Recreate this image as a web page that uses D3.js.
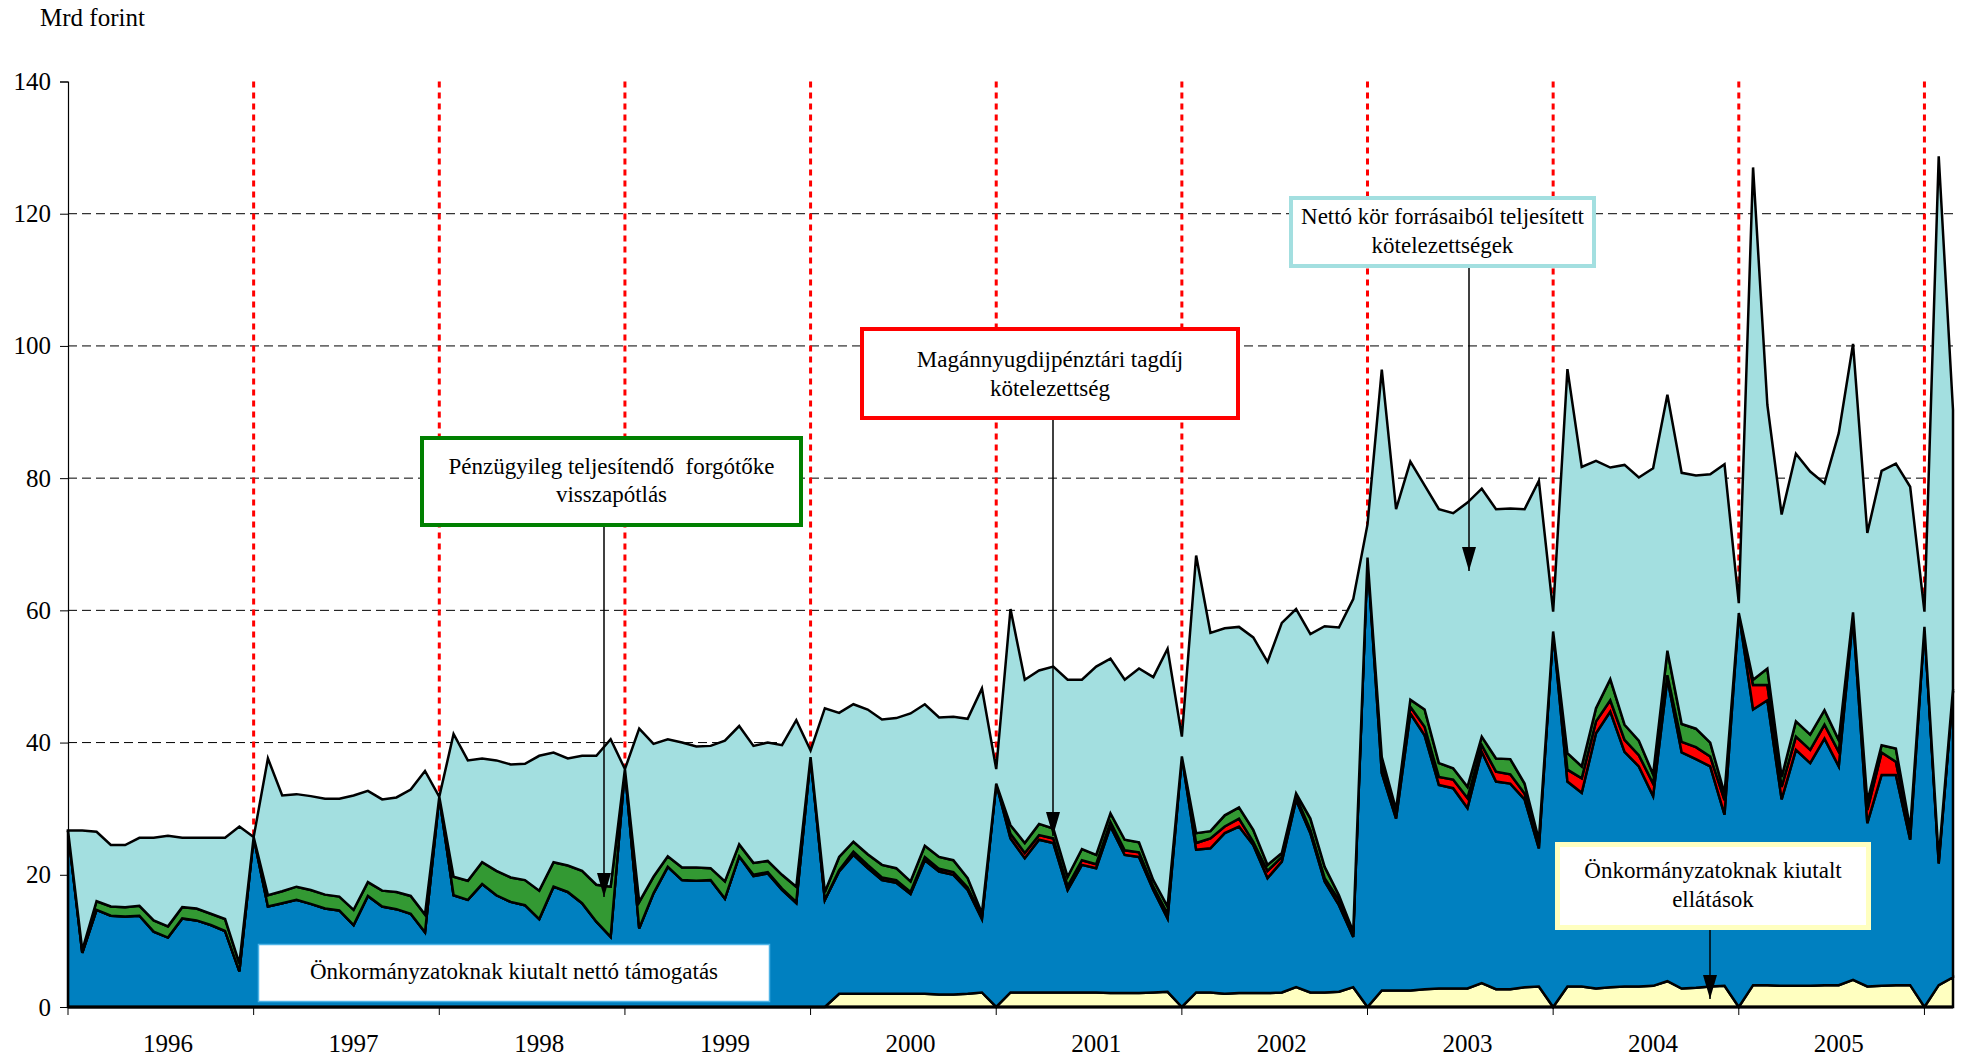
<!DOCTYPE html>
<html>
<head>
<meta charset="utf-8">
<script src="https://cdn.jsdelivr.net/npm/d3@7"></script>
<style>
    body { margin: 0; background: #fff; }
    svg text { font-family: "Liberation Serif", serif; fill: #000; }
</style>
</head>
<body>
<div id="chart"></div>
<script>

// Years on the category axis (13 periods per year, plus 3 closing points)
var years = [1996, 1997, 1998, 1999, 2000, 2001, 2002, 2003, 2004, 2005];
var yTicks = [0, 20, 40, 60, 80, 100, 120, 140];

// Önkormányzatoknak kiutalt ellátások (Mrd Ft)
var ellatasok = [
    0,0,0,0,0,0,0,0,0,0,0,0,0,
    0,0,0,0,0,0,0,0,0,0,0,0,0,
    0,0,0,0,0,0,0,0,0,0,0,0,0,
    0,0,0,0,0,0,0,0,0,0,0,0,0,
    0,0,2.0,2.0,2.0,2.0,2.0,2.0,2.0,1.9,1.9,2.0,2.2,
    0,2.2,2.2,2.2,2.2,2.2,2.2,2.2,2.1,2.1,2.1,2.2,2.3,
    0,2.2,2.2,2.0,2.1,2.1,2.1,2.2,3.0,2.2,2.2,2.3,3.0,
    0,2.5,2.5,2.5,2.7,2.8,2.8,2.8,3.6,2.7,2.7,3.0,3.1,
    0,3.1,3.1,2.8,3.0,3.1,3.1,3.2,3.9,2.8,2.9,3.1,3.2,
    0,3.3,3.3,3.2,3.2,3.2,3.3,3.3,4.1,3.1,3.2,3.3,3.3,
    0,3.3,4.5
];

// Önkormányzatoknak kiutalt nettó támogatás
var tamogatas = [
    26.7,8.2,14.7,13.8,13.7,13.8,11.4,10.5,13.4,13.1,12.4,11.5,5.4,
    25.7,15.2,15.7,16.2,15.6,14.9,14.6,12.4,16.8,15.2,14.8,14.1,11.3,
    31.8,16.9,16.2,18.6,16.9,15.9,15.4,13.3,18.2,17.4,15.7,12.9,10.6,
    36.0,11.9,17.2,21.2,19.2,19.1,19.2,16.4,22.8,19.8,20.2,17.7,15.7,
    37.8,16.2,18.5,21.0,19.0,17.2,16.8,15.1,20.2,18.6,18.1,15.7,11.1,
    33.8,23.3,20.3,23.1,22.6,15.5,19.3,18.8,25.2,20.9,20.6,15.5,11.1,
    37.9,21.6,21.8,24.3,25.2,22.4,17.4,19.8,28.3,24.1,16.8,13.1,7.6,
    68.0,32.9,26.0,41.9,38.4,30.8,30.3,27.3,35.0,31.4,31.1,28.4,20.9,
    56.8,31.0,29.3,38.6,41.7,35.5,33.3,28.7,45.8,35.7,34.6,33.3,25.9,
    59.6,41.7,43.1,28.2,35.7,33.7,37.3,33.1,54.9,24.7,31.9,31.8,22.0,
    57.5,18.4,43.3
];

// Magánnyugdíjpénztári tagdíj kötelezettség
var maganNyugdij = [
    0,0,0,0,0,0,0,0,0,0,0,0,0,
    0,0,0,0,0,0,0,0,0,0,0,0,0,
    0,0,0,0,0,0,0,0,0,0,0,0,0,
    0,0,0,0,0,0,0,0,0,0.2,0.2,0.2,0.2,
    0,0,0.2,0.5,0.5,0.4,0.4,0.3,0.5,0.4,0.4,0.4,0.4,
    0,0.7,0.8,0.7,0.7,0.6,0.7,0.6,0.7,0.7,0.7,0.5,0.7,
    0,1.0,1.5,1.0,1.2,0.5,1.1,0.7,0.5,0.5,0.5,0.8,0.5,
    0,1.2,0.8,1.0,1.3,1.2,1.3,1.5,1.0,1.5,1.4,0.9,0.8,
    0,1.8,2.2,1.8,1.7,1.8,1.7,1.9,0.5,1.6,1.8,1.5,2.2,
    0,3.7,2.3,1.9,2.0,2.0,2.1,2.2,0.3,2.0,3.4,2.0,1.5,
    0,0.5,0
];

// Pénzügyileg teljesítendő forgótőke visszapótlás
var forgotoke = [
    0,0.4,1.3,1.4,1.4,1.5,1.7,1.7,1.7,1.8,1.7,1.8,1.2,
    0,1.7,1.8,2.0,2.1,2.1,2.1,2.3,2.1,2.4,2.6,2.7,2.7,
    0,2.8,2.9,3.3,3.7,3.7,3.8,4.3,3.7,4.0,4.9,5.6,7.6,
    0,4.0,2.5,1.6,1.9,2.0,1.8,2.6,1.8,1.8,1.7,2.1,2.3,
    0,1.2,2.0,1.5,1.6,1.9,1.8,1.6,1.7,1.8,1.8,1.4,0.5,
    0,1.3,1.5,1.7,1.5,1.4,1.7,1.4,1.3,1.6,1.5,1.0,1.1,
    0,1.5,1.1,1.7,1.7,1.8,0.9,0.6,0.5,1.7,1.7,0.7,0.3,
    0,1.2,0.6,1.1,2.6,2.1,1.7,1.7,1.3,2.0,2.3,1.5,0.5,
    0,2.5,1.8,2.0,3.2,2.3,2.2,1.4,3.7,2.7,2.8,2.1,1.0,
    0,0.8,2.5,1.5,2.3,2.3,2.2,1.8,0.4,1.3,1.1,2.0,0.2,
    0,0.3,0.3
];

// Nettó kör forrásaiból teljesített kötelezettségek
var nettoKor = [
    0,18.1,10.5,9.3,9.4,10.3,12.5,13.7,10.5,10.7,11.5,12.3,20.7,
    0,20.7,14.5,14.0,14.2,14.5,14.8,17.3,13.8,13.8,14.3,16.1,21.7,
    0,21.6,18.2,15.7,16.7,17.1,17.6,20.4,16.6,16.2,17.4,19.5,22.3,
    0,26.2,20.1,17.7,18.9,18.3,18.5,21.3,17.9,17.7,17.9,19.6,25.2,
    1.0,27.8,21.8,20.8,21.9,22.0,22.7,25.4,21.4,21.1,21.7,24.1,34.0,
    2.2,32.7,24.7,23.2,24.5,29.8,25.6,28.5,23.4,24.2,26.3,30.7,39.0,
    3.0,42.0,30.0,28.3,27.3,29.1,30.7,34.8,27.9,27.9,36.4,40.5,50.3,
    5.0,58.6,45.4,36.0,33.9,38.4,38.6,43.0,37.5,37.7,37.9,41.5,54.3,
    3.0,58.1,45.3,37.4,32.0,39.3,39.8,46.3,38.7,38.0,38.3,40.6,49.8,
    1.5,77.5,39.9,39.7,40.5,39.8,34.3,46.4,40.6,40.6,41.5,43.1,51.7,
    2.3,106.2,42.2
];

var seriesKeys = ["ellatasok", "tamogatas", "maganNyugdij", "forgotoke", "nettoKor"];
var seriesColors = ["#ffffc0", "#0080c0", "#ff0000", "#339933", "#a3dfe0"];

var SERIF = "'Liberation Serif', 'Times New Roman', Times, serif";


StackedChart = function(_parentElement){
    this.parentElement = _parentElement;
    this.initVis();
}

StackedChart.prototype.initVis = function(){
    var vis = this;

    vis.margin = { top: 81.5, right: 8, bottom: 51, left: 68 };
    vis.width = 1961 - vis.margin.left - vis.margin.right;
    vis.height = 1058 - vis.margin.top - vis.margin.bottom;

    vis.root = d3.select("#" + vis.parentElement).append("svg")
        .attr("width", 1961)
        .attr("height", 1058)
        .attr("font-family", SERIF);

    vis.svg = vis.root.append("g")
        .attr("transform", "translate(" + vis.margin.left + "," + vis.margin.top + ")");

    vis.n = tamogatas.length;
    vis.x = d3.scaleLinear().domain([0, vis.n - 1]).range([0, vis.width]);
    vis.y = d3.scaleLinear().domain([0, 140]).range([vis.height, 0]);

    // arrow head
    vis.root.append("defs").append("marker")
        .attr("id", "arrow")
        .attr("viewBox", "0 -7 24 14")
        .attr("refX", 24).attr("refY", 0)
        .attr("markerWidth", 24).attr("markerHeight", 14)
        .attr("markerUnits", "userSpaceOnUse")
        .attr("orient", "auto")
        .append("path").attr("d", "M0,-7L24,0L0,7Z").attr("fill", "#000");

    vis.wrangleData();
}

StackedChart.prototype.wrangleData = function(){
    var vis = this;

    vis.rows = d3.range(vis.n).map(function(i){
        return {
            i: i,
            ellatasok: ellatasok[i],
            tamogatas: tamogatas[i],
            maganNyugdij: maganNyugdij[i],
            forgotoke: forgotoke[i],
            nettoKor: nettoKor[i]
        };
    });
    vis.stacked = d3.stack().keys(seriesKeys)(vis.rows);

    vis.updateVis();
}

StackedChart.prototype.updateVis = function(){
    var vis = this;
    var x = vis.x, y = vis.y;

    // horizontal dashed grid
    vis.svg.selectAll(".grid").data(yTicks.filter(function(d){ return d > 0 && d < 140; }))
        .enter().append("line")
        .attr("x1", 0).attr("x2", vis.width)
        .attr("y1", function(d){ return y(d); }).attr("y2", function(d){ return y(d); })
        .attr("stroke", "#000").attr("stroke-width", 1)
        .attr("stroke-dasharray", "9,5");

    // red dotted year separators
    var bounds = years.map(function(d, k){ return (k + 1) * 13; });
    vis.svg.selectAll(".sep").data(bounds)
        .enter().append("line")
        .attr("x1", function(d){ return x(d); }).attr("x2", function(d){ return x(d); })
        .attr("y1", 0).attr("y2", vis.height)
        .attr("stroke", "#ff0000").attr("stroke-width", 3)
        .attr("stroke-dasharray", "6,5");

    // stacked areas
    var area = d3.area()
        .x(function(d){ return x(d.data.i); })
        .y0(function(d){ return y(d[0]); })
        .y1(function(d){ return y(d[1]); });

    vis.svg.selectAll(".layer").data(vis.stacked)
        .enter().append("path")
        .attr("class", "layer")
        .attr("d", area)
        .attr("fill", function(d, k){ return seriesColors[k]; })
        .attr("stroke", "#000")
        .attr("stroke-width", 2.5)
        .attr("stroke-linejoin", "miter");

    // y axis
    var yAxis = d3.axisLeft(y).tickValues(yTicks).tickSize(8).tickPadding(9);
    var gy = vis.svg.append("g").call(yAxis)
        .attr("font-family", SERIF).attr("font-size", 25);
    gy.select(".domain").attr("stroke", "#000").attr("stroke-width", 1.2);
    gy.selectAll(".tick line").attr("stroke", "#000");
    gy.selectAll("text").style("font-family", SERIF).style("font-size", "25px");

    // x axis
    var gx = vis.svg.append("g").attr("transform", "translate(0," + vis.height + ")");
    gx.append("line").attr("x1", 0).attr("x2", vis.width)
        .attr("stroke", "#000").attr("stroke-width", 3);
    gx.selectAll(".xt").data([0].concat(bounds))
        .enter().append("line")
        .attr("x1", function(d){ return x(d); }).attr("x2", function(d){ return x(d); })
        .attr("y1", 0).attr("y2", 8)
        .attr("stroke", "#000").attr("stroke-width", 1);
    gx.selectAll(".xl").data(years)
        .enter().append("text")
        .attr("x", function(d, k){ return x(k * 13 + 7); })
        .attr("y", 45)
        .attr("text-anchor", "middle")
        .style("font-family", SERIF)
        .style("font-size", "25px")
        .text(function(d){ return d; });

    vis.root.append("text")
        .attr("x", 40).attr("y", 26)
        .style("font-family", SERIF)
        .style("font-size", "25px")
        .text("Mrd forint");

    // annotation boxes
    var notes = [
        { x: 422, y: 438, w: 379, h: 87, stroke: "#008000", sw: 4, fill: "#fff",
          lines: ["Pénzügyileg teljesítendő\u00a0 forgótőke", "visszapótlás"], base: [474, 502],
          arrow: [604, 527, 897] },
        { x: 862, y: 329, w: 376, h: 89, stroke: "#ff0000", sw: 4, fill: "#fff",
          lines: ["Magánnyugdijpénztári tagdíj", "kötelezettség"], base: [367, 396],
          arrow: [1053, 420, 836] },
        { x: 1291, y: 198, w: 303, h: 68, stroke: "#a3dfe0", sw: 4, fill: "#fff",
          lines: ["Nettó kör forrásaiból teljesített", "kötelezettségek"], base: [224, 253],
          arrow: [1469, 268, 571] },
        { x: 1557.5, y: 844.5, w: 311, h: 83, stroke: "#ffffc0", sw: 5, fill: "#fff",
          lines: ["Önkormányzatoknak kiutalt", "ellátások"], base: [878, 907],
          arrow: [1710, 930, 999] },
        { x: 258.5, y: 944.5, w: 511, h: 57, stroke: "#4db3e6", sw: 1.5, fill: "#fff",
          lines: ["Önkormányzatoknak kiutalt nettó támogatás"], base: [979], arrow: null }
    ];

    notes.forEach(function(n){
        if (n.arrow) {
            vis.root.append("line")
                .attr("x1", n.arrow[0]).attr("x2", n.arrow[0])
                .attr("y1", n.arrow[1]).attr("y2", n.arrow[2])
                .attr("stroke", "#000").attr("stroke-width", 1.5)
                .attr("marker-end", "url(#arrow)");
        }
        vis.root.append("rect")
            .attr("x", n.x).attr("y", n.y).attr("width", n.w).attr("height", n.h)
            .attr("fill", n.fill).attr("stroke", n.stroke).attr("stroke-width", n.sw);
        n.lines.forEach(function(t, k){
            vis.root.append("text")
                .attr("x", n.x + n.w / 2).attr("y", n.base[k])
                .attr("text-anchor", "middle")
                .style("font-family", SERIF)
                .style("font-size", "23px")
                .text(t);
        });
    });
}

var chart = new StackedChart("chart");

</script>
</body>
</html>
